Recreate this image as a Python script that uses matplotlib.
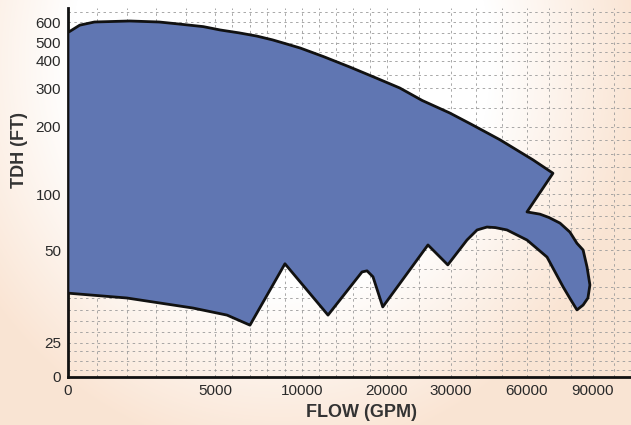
import numpy as np
import matplotlib
matplotlib.use('Agg')
import matplotlib.pyplot as plt

# axis ticks (chart uses an uneven, hand-drawn scale)
flow_ticks = [0, 5000, 10000, 20000, 30000, 60000, 90000]
head_ticks = [0, 25, 50, 100, 200, 300, 400, 500, 600]

# outline of the pump coverage area (flow in GPM, head in FT)
outline_flow = [0, 400, 900, 2100, 3100, 3800, 4600, 5300, 6400, 7400, 8300, 9100, 9900, 12500, 15600,
                18500, 22000, 25500, 29800, 38000, 49300, 62700, 71800,
                60000, 65900, 70000, 75000, 79500, 82700, 85500, 87300, 88600, 87700, 85500, 82700,
                79500, 76400, 69100, 60000, 52100, 47500, 44200, 40300, 36300, 29500, 26400,
                19500, 18350, 17650, 17060, 13060, 9020, 7010, 5690, 4250, 2000, 0]
outline_head = [550, 585, 600, 605, 600, 590, 578, 562, 548, 533, 515, 495, 472, 425, 378,
                340, 300, 268, 236, 207, 181, 151, 131,
                84, 82, 79, 74, 66, 56, 50, 45.4, 40.6, 37.1, 35.2, 33.9,
                37.0, 40.1, 48.1, 58.9, 67.9, 70.0, 70.5, 67.9, 58.9, 46.0, 54.5,
                34.7, 42.8, 44.4, 44.1, 32.5, 46.3, 29.8, 32.5, 34.4, 37.1, 38.4]

# grid lines
grid_flow = [1000, 2000, 3000, 4000, 5000, 6000, 7000, 8000, 9000, 10000,
             12000, 14000, 16000, 18000, 20000, 25000, 30000, 40000, 50000,
             60000, 70000, 80000, 90000, 100000]
grid_head = [5, 12, 19, 25, 28, 31, 34, 37, 40, 45, 50, 60, 70, 80, 90, 100,
             120, 140, 160, 180, 200, 250, 300, 350, 400, 450, 500, 550, 600, 650]

# scale anchors: value -> position along the axis (pixels)
x_vals = np.array(flow_ticks + [108000], dtype=float)
x_pos = np.array([0, 147, 234, 319, 383, 459, 525, 563], dtype=float)
y_vals = np.array(head_ticks + [670], dtype=float)
y_pos = np.array([0, 34, 127, 183, 250, 289, 316, 334, 355, 369], dtype=float)


def fx(v):
    return np.interp(v, x_vals, x_pos)


def fx_inv(p):
    return np.interp(p, x_pos, x_vals)


def fy(v):
    return np.interp(v, y_vals, y_pos)


def fy_inv(p):
    return np.interp(p, y_pos, y_vals)


W, H = 631, 425
fig = plt.figure(figsize=(W / 100, H / 100), dpi=100)

# scanned paper background: white middle, light peach towards right / lower left
bg = fig.add_axes([0, 0, 1, 1], zorder=-10)
yy, xx = np.mgrid[0:H, 0:W]
d = np.sqrt(((xx - 280) / 300.0) ** 2 + ((yy - 60) / 330.0) ** 2)
t = np.clip((d - 0.7) / 0.5, 0, 1)[..., None] * 0.85
white = np.array([1.0, 1.0, 1.0])
peach = np.array([249, 224, 204]) / 255.0
img = white * (1 - t) + peach * t
bg.imshow(img, aspect='auto', interpolation='bilinear')
bg.axis('off')

ax = fig.add_axes([68 / W, 48 / H, 563 / W, 369 / H])
ax.patch.set_alpha(0)
ax.set_xscale('function', functions=(fx, fx_inv))
ax.set_yscale('function', functions=(fy, fy_inv))
ax.set_xlim(0, 108000)
ax.set_ylim(0, 670)

for gx in grid_flow:
    ax.axvline(gx, color='#9a9a9a', lw=0.6, ls=(0, (3, 4)), zorder=1)
for gy in grid_head:
    ax.axhline(gy, color='#9a9a9a', lw=0.6, ls=(0, (3, 4)), zorder=1)

ax.fill(outline_flow, outline_head, facecolor='#6076b2', edgecolor='#111111',
        lw=2, joinstyle='round', zorder=3)

ax.set_xticks(flow_ticks)
ax.set_xticklabels([str(v) for v in flow_ticks])
ax.set_yticks(head_ticks)
ax.set_yticklabels([str(v) for v in head_ticks])
ax.minorticks_off()
ax.tick_params(length=0, labelsize=11, labelcolor='#2a2a2a', pad=5)
for lab in ax.get_xticklabels() + ax.get_yticklabels():
    lab.set_family('Liberation Sans')

for s in ['top', 'right']:
    ax.spines[s].set_visible(False)
ax.spines['left'].set_linewidth(2)
ax.spines['bottom'].set_linewidth(2)
ax.spines['left'].set_color('#111111')
ax.spines['bottom'].set_color('#111111')

ax.set_xlabel('FLOW (GPM)', fontsize=13, fontweight='bold', family='Liberation Sans',
              color='#333333')
ax.set_ylabel('TDH (FT)', fontsize=13, fontweight='bold', family='Liberation Sans',
              color='#333333')
ax.xaxis.set_label_coords((362 - 68) / 563, -27 / 369)
ax.yaxis.set_label_coords(-40 / 563, (377 - 150) / 369)

fig.savefig('out.png', dpi=100)
